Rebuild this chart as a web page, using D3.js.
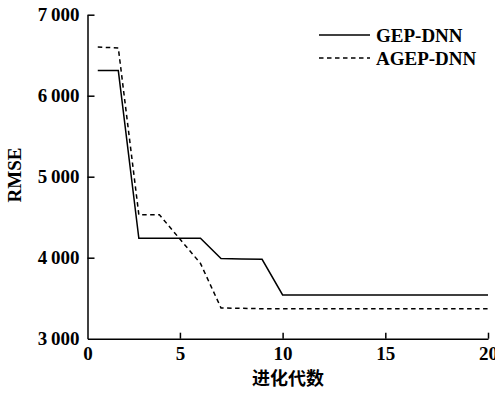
<!DOCTYPE html>
<html><head><meta charset="utf-8">
<script src="https://cdn.jsdelivr.net/npm/d3@7"></script>
<style>html,body{margin:0;padding:0;background:#fff;}svg{display:block;}</style>
</head><body>
<script>
const generations = [1,2,3,4,5,6,7,8,9,10,11,12,13,14,15,16,17,18,19,20];
const gepDnn  = [6310,6310,4240,4240,4240,4240,3990,3985,3980,3540,3540,3540,3540,3540,3540,3540,3540,3540,3540,3540];
const agepDnn = [6600,6590,4530,4530,4230,3930,3380,3375,3370,3370,3370,3370,3370,3370,3370,3370,3370,3370,3370,3370];
const seriesNames = ["GEP-DNN","AGEP-DNN"];
const xTickValues = [0.5,5,10,15,20];
const xTickLabels = ["0","5","10","15","20"];
const yTickValues = [3000,4000,5000,6000,7000];
const xTitle = "进化代数";
const yTitle = "RMSE";

const W = 495, H = 393;
const svg = d3.select("body").append("svg").attr("width", W).attr("height", H);
const x = d3.scaleLinear().domain([0.5, 20]).range([87.5, 488]);
const y = d3.scaleLinear().domain([3000, 7000]).range([338.7, 14.7]);
const serif = "'Liberation Serif','Times New Roman',serif";

const fmt = v => { const s = String(v); return s.length > 3 ? s.slice(0, s.length-3) + "\u2009" + s.slice(-3) : s; };

const gx = svg.append("g").attr("transform", `translate(0,${y(3000)})`)
  .call(d3.axisBottom(x).tickValues(xTickValues).tickFormat((d,i) => xTickLabels[i]).tickSizeInner(-6).tickSizeOuter(0).tickPadding(8));
const gy = svg.append("g").attr("transform", `translate(${x(0.5)},0)`)
  .call(d3.axisLeft(y).tickValues(yTickValues).tickFormat(fmt).tickSizeInner(-7).tickSizeOuter(0).tickPadding(8));
[gx, gy].forEach(g => {
  g.selectAll("path.domain").attr("stroke", "#000").attr("stroke-width", 1.5);
  g.selectAll(".tick line").attr("stroke", "#000").attr("stroke-width", 1.5);
  g.selectAll(".tick text").attr("fill", "#000").style("font-family", serif).style("font-weight", "bold").style("font-size", "19px");
});
gx.selectAll(".tick line").filter(d => d === 0.5).remove();
gy.selectAll(".tick line").filter(d => d === 3000).remove();

const line = d3.line().x((d,i) => x(generations[i])).y(d => y(d));
svg.append("path").datum(gepDnn).attr("d", line).attr("fill", "none").attr("stroke", "#000").attr("stroke-width", 1.5);
svg.append("path").datum(agepDnn).attr("d", line).attr("fill", "none").attr("stroke", "#000").attr("stroke-width", 1.5).attr("stroke-dasharray", "4.5,3.5");

// legend
const leg = svg.append("g");
seriesNames.forEach((n, i) => {
  const yy = 35 + i * 23;
  leg.append("line").attr("x1", 319).attr("x2", 370).attr("y1", yy).attr("y2", yy)
    .attr("stroke", "#000").attr("stroke-width", 1.5).attr("stroke-dasharray", i ? "4.5,3.5" : null);
  leg.append("text").attr("x", 376).attr("y", yy).attr("dy", "0.35em").text(n)
    .style("font-family", serif).style("font-weight", "bold").style("font-size", "19px");
});

svg.append("text").attr("transform", "translate(21,175) rotate(-90)").attr("text-anchor", "middle").text(yTitle)
  .style("font-family", serif).style("font-weight", "bold").style("font-size", "19px");
svg.append("text").attr("x", 288).attr("y", 385).attr("text-anchor", "middle").text(xTitle)
  .style("font-family", "'Noto Sans CJK SC',sans-serif").style("font-weight", "bold").style("font-size", "18px");
</script>
</body></html>
